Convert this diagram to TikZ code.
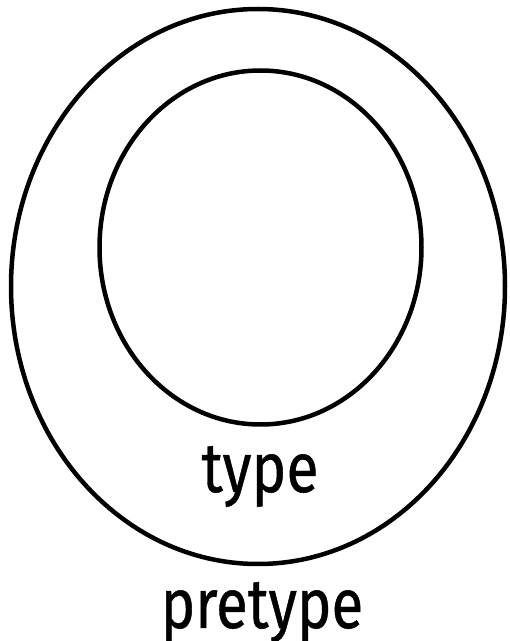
\documentclass[tikz,border=0pt]{standalone}
\usepackage{fontspec}
\newfontfamily\lblfont{Fira Sans}[FakeBold=0.7]
\begin{document}
\begin{tikzpicture}[x=1pt,y=1pt,
  ring/.style={draw=black,line width=4.5pt},
  lbl/.style={inner sep=0pt,anchor=base,font=\lblfont\fontsize{70}{70}\selectfont}]
\useasboundingbox (0,0) rectangle (510,641);
\draw[ring] (258,354.5) ellipse [x radius=247,y radius=277.5];
\draw[ring] (260.5,393.5) ellipse [x radius=161,y radius=177];
\node[lbl] (type) at (260,149) {\scalebox{0.84}[1]{type}};
\node[lbl] (pretype) at (262,13) {\scalebox{0.83}[1]{pretype}};
\end{tikzpicture}
\end{document}
